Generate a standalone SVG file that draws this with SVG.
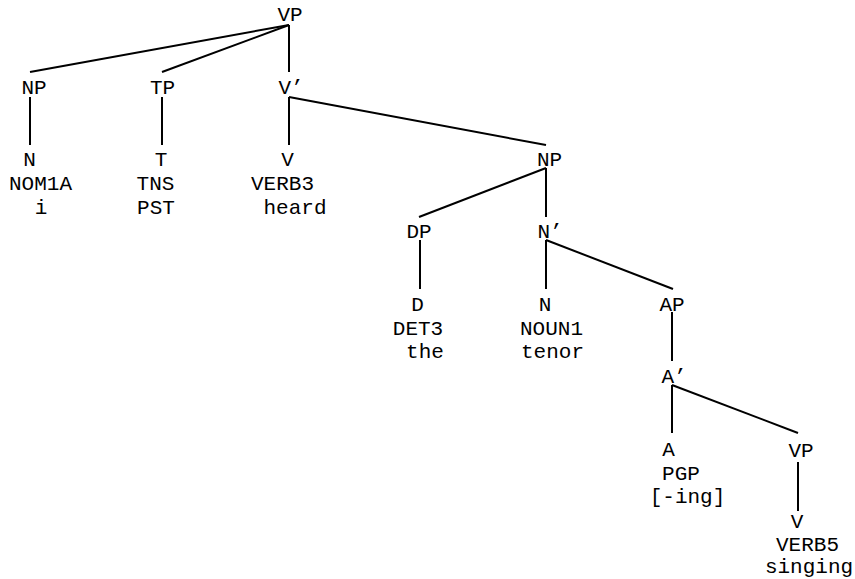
<svg xmlns="http://www.w3.org/2000/svg" width="855" height="579" viewBox="0 0 855 579">
<style>
text{font-family:"Liberation Mono","Courier New",monospace;font-size:21px;fill:#000;text-anchor:middle}
.e line{stroke:#000;stroke-width:2;stroke-linecap:butt}
</style>
<rect width="855" height="579" fill="#fff"/>
<g class="e" id="connectors">
<line x1="289" y1="25" x2="30" y2="72"/>
<line x1="289" y1="25" x2="162" y2="72"/>
<line x1="289" y1="25" x2="289" y2="72"/>
<line x1="30" y1="97" x2="30" y2="145"/>
<line x1="162" y1="97" x2="162" y2="145"/>
<line x1="289" y1="97" x2="289" y2="145"/>
<line x1="289" y1="97" x2="546" y2="145"/>
<line x1="546" y1="168" x2="419" y2="217"/>
<line x1="546" y1="168" x2="546" y2="217"/>
<line x1="420" y1="240" x2="420" y2="289"/>
<line x1="546" y1="240" x2="546" y2="289"/>
<line x1="546" y1="240" x2="673" y2="289"/>
<line x1="672" y1="312" x2="672" y2="361"/>
<line x1="672" y1="385" x2="672" y2="433"/>
<line x1="672" y1="385" x2="798" y2="433"/>
<line x1="798" y1="462" x2="798" y2="511"/>
</g>
<g id="vp"><text x="290" y="21">VP</text></g>
<g id="np1"><text x="34" y="94">NP</text></g>
<g id="tp"><text x="162.5" y="94">TP</text></g>
<g id="vbar"><text x="291" y="94">V’</text></g>
<g id="n1"><text x="29.5" y="166">N</text><text x="40.5" y="190">NOM1A</text><text x="41" y="214">i</text></g>
<g id="t"><text x="161" y="166">T</text><text x="155.5" y="190">TNS</text><text x="156" y="214">PST</text></g>
<g id="v1"><text x="287.5" y="166">V</text><text x="282.5" y="190">VERB3</text><text x="295" y="214">heard</text></g>
<g id="np2"><text x="549.5" y="166">NP</text></g>
<g id="dp"><text x="419" y="238">DP</text></g>
<g id="nbar"><text x="550" y="238">N’</text></g>
<g id="d"><text x="417.5" y="311">D</text><text x="418" y="335">DET3</text><text x="425" y="358">the</text></g>
<g id="n2"><text x="545" y="311">N</text><text x="551.5" y="335">NOUN1</text><text x="552.5" y="358">tenor</text></g>
<g id="ap"><text x="672" y="311">AP</text></g>
<g id="abar"><text x="674" y="383">A’</text></g>
<g id="a"><text x="668.5" y="456">A</text><text x="681" y="480">PGP</text><text x="687.5" y="503">[-ing]</text></g>
<g id="vp2"><text x="801" y="457">VP</text></g>
<g id="v2"><text x="797" y="528">V</text><text x="807.5" y="551">VERB5</text><text x="809" y="573">singing</text></g>
</svg>
